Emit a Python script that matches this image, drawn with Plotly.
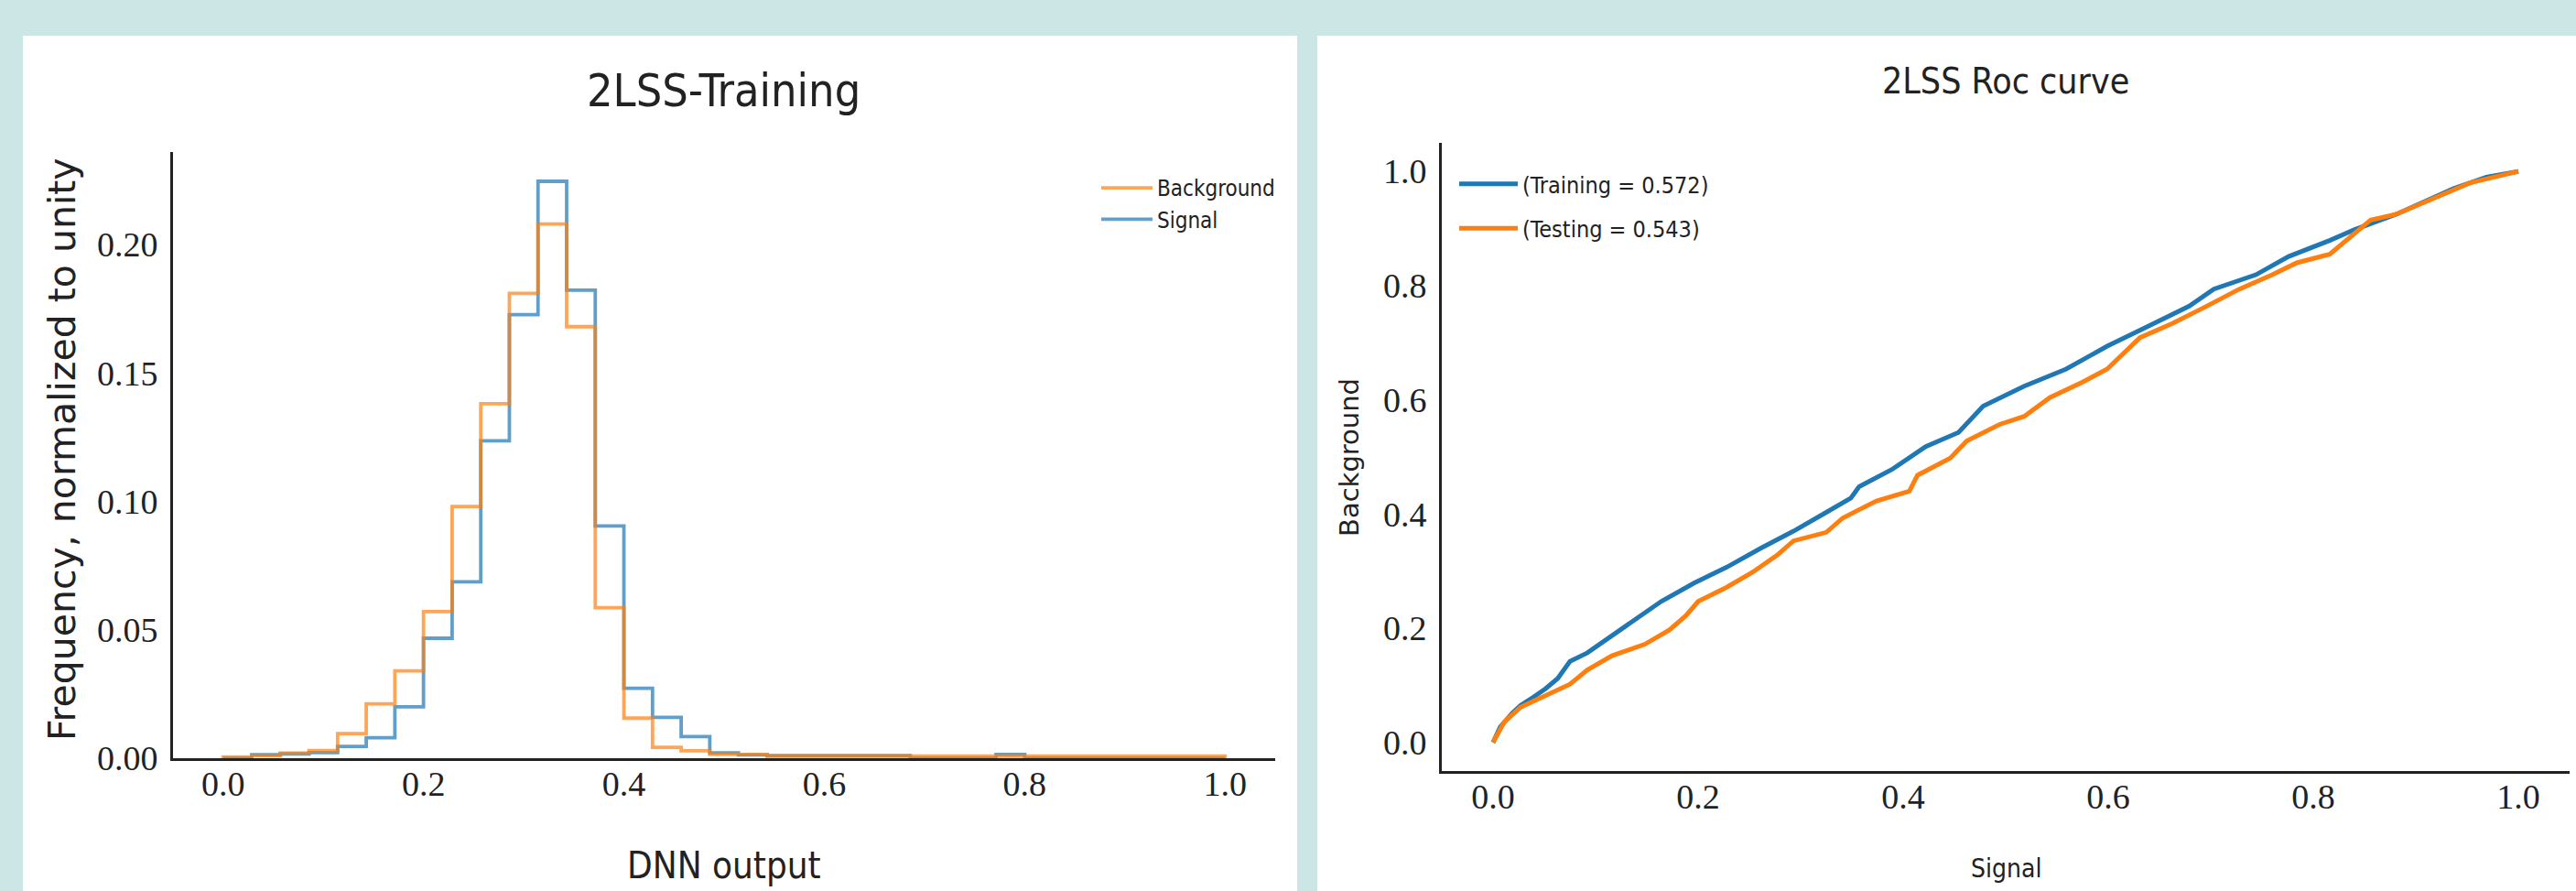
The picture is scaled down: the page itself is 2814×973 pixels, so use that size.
import numpy as np
import plotly.graph_objects as go

W, H = 2814, 973

# ---- DNN output histogram: 35 equal bins on [0, 1], each sample normalized to unit sum
bin_edges = np.linspace(0.0, 1.0, 36)
background_freq = [0.0005, 0.0010, 0.0020, 0.0030, 0.0096, 0.0212, 0.0340, 0.0571, 0.0980, 0.1380,
                   0.1810, 0.2080, 0.1680, 0.0586, 0.0156, 0.0042, 0.0029, 0.0015, 0.0015, 0.0008,
                   0.0008, 0.0008, 0.0008, 0.0008, 0.0008, 0.0008, 0.0008, 0.0008, 0.0008, 0.0008,
                   0.0008, 0.0008, 0.0008, 0.0008, 0.0008]
signal_freq = [0.0000, 0.0014, 0.0017, 0.0022, 0.0046, 0.0080, 0.0200, 0.0467, 0.0687, 0.1236,
               0.1727, 0.2246, 0.1822, 0.0904, 0.0272, 0.0159, 0.0084, 0.0021, 0.0013, 0.0010,
               0.0010, 0.0010, 0.0010, 0.0010, 0.0000, 0.0000, 0.0000, 0.0015, 0.0000, 0.0000,
               0.0000, 0.0000, 0.0000, 0.0000, 0.0000]

# ---- ROC curves (signal efficiency vs background efficiency)
train_sig = [0.000, 0.007, 0.019, 0.027, 0.039, 0.051, 0.063, 0.075, 0.092, 0.116, 0.140, 0.164,
             0.196, 0.228, 0.261, 0.293, 0.325, 0.349, 0.357, 0.389, 0.422, 0.454, 0.478, 0.518,
             0.559, 0.599, 0.639, 0.679, 0.703, 0.744, 0.776, 0.816, 0.840, 0.881, 0.937, 0.969, 1.000]
train_bkg = [0.000, 0.027, 0.052, 0.065, 0.079, 0.094, 0.112, 0.142, 0.157, 0.187, 0.217, 0.247,
             0.279, 0.307, 0.340, 0.370, 0.403, 0.428, 0.448, 0.478, 0.518, 0.543, 0.589, 0.624,
             0.654, 0.694, 0.729, 0.764, 0.794, 0.819, 0.851, 0.879, 0.898, 0.925, 0.970, 0.990, 1.000]
test_sig = [0.000, 0.011, 0.027, 0.051, 0.075, 0.092, 0.116, 0.148, 0.172, 0.188, 0.200, 0.228,
            0.253, 0.277, 0.293, 0.325, 0.341, 0.374, 0.406, 0.414, 0.446, 0.462, 0.494, 0.518,
            0.543, 0.575, 0.599, 0.631, 0.663, 0.696, 0.728, 0.760, 0.784, 0.816, 0.856, 0.881,
            0.921, 0.953, 1.000]
test_bkg = [0.000, 0.036, 0.062, 0.082, 0.102, 0.127, 0.152, 0.172, 0.197, 0.222, 0.247, 0.272,
            0.298, 0.328, 0.353, 0.368, 0.393, 0.423, 0.440, 0.468, 0.498, 0.528, 0.557, 0.571,
            0.604, 0.631, 0.654, 0.709, 0.734, 0.764, 0.794, 0.819, 0.840, 0.855, 0.915, 0.925,
            0.955, 0.980, 1.000]
train_auc = 0.572
test_auc = 0.543

BLUE = "#1f77b4"
ORANGE = "#ff7f0e"
TEAL = "#cce6e6"
INK = "#222222"
NARROW = "DejaVu Sans Condensed, Liberation Sans Narrow, Liberation Sans, sans-serif"
SERIF = "Liberation Serif, DejaVu Serif, serif"
WIDE = "DejaVu Sans, sans-serif"


def px_x(p):
    return p / W


def px_y(p):
    return 1 - p / H


def step_outline(edges, values):
    xs = [edges[0]] + list(edges[:-1]) + [edges[-1]]
    ys = [0.0] + list(values) + [0.0]
    return xs, ys


fig = go.Figure()

sx, sy = step_outline(bin_edges, signal_freq)
bx, by = step_outline(bin_edges, background_freq)
fig.add_trace(go.Scatter(x=sx, y=sy, mode="lines", line=dict(shape="hv", color=BLUE, width=3.8),
                         opacity=0.7, name="Signal", legend="legend", legendrank=2,
                         xaxis="x", yaxis="y"))
fig.add_trace(go.Scatter(x=bx, y=by, mode="lines", line=dict(shape="hv", color=ORANGE, width=3.8),
                         opacity=0.7, name="Background", legend="legend", legendrank=1,
                         xaxis="x", yaxis="y"))

fig.add_trace(go.Scatter(x=train_sig, y=train_bkg, mode="lines", line=dict(color=BLUE, width=5),
                         name=f"(Training = {train_auc:.3f})", legend="legend2", legendrank=1,
                         legendgroup="train", xaxis="x2", yaxis="y2"))
fig.add_trace(go.Scatter(x=test_sig, y=test_bkg, mode="lines", line=dict(color=ORANGE, width=5),
                         name=f"(Testing = {test_auc:.3f})", legend="legend2", legendrank=2,
                         legendgroup="test", xaxis="x2", yaxis="y2"))

axis_common = dict(showgrid=False, zeroline=False, showline=True, linecolor=INK, linewidth=3,
                   automargin=False, tickfont=dict(family=SERIF, size=38, color=INK), mirror=False)
x_ticks = dict(ticks="", ticklabelstandoff=-8, **axis_common)
y_ticks = dict(ticks="outside", ticklen=6, tickcolor="rgba(0,0,0,0)", **axis_common)

fig.update_layout(
    width=W, height=H,
    autosize=False,
    margin=dict(l=0, r=0, t=0, b=0, pad=0, autoexpand=False),
    paper_bgcolor=TEAL,
    plot_bgcolor="rgba(0,0,0,0)",
    showlegend=True,
    xaxis=dict(domain=[px_x(189), px_x(1393)], range=[-0.05, 1.05], anchor="y",
               tickvals=[0, 0.2, 0.4, 0.6, 0.8, 1.0], tickformat=".1f", **x_ticks),
    yaxis=dict(domain=[px_y(828), px_y(166)], range=[0, 0.236], anchor="x",
               tickvals=[0, 0.05, 0.10, 0.15, 0.20], tickformat=".2f", **y_ticks),
    xaxis2=dict(domain=[px_x(1575), px_x(2807)], range=[-0.05, 1.05], anchor="y2",
                tickvals=[0, 0.2, 0.4, 0.6, 0.8, 1.0], tickformat=".1f", **x_ticks),
    yaxis2=dict(domain=[px_y(842), px_y(156)], range=[-0.05, 1.05], anchor="x2",
                tickvals=[0, 0.2, 0.4, 0.6, 0.8, 1.0], tickformat=".1f", **y_ticks),
    legend=dict(x=px_x(1198), y=px_y(183), xanchor="left", yanchor="top",
                bgcolor="rgba(0,0,0,0)", font=dict(family=NARROW, size=24, color=INK),
                itemwidth=56),
    legend2=dict(x=px_x(1589), y=px_y(178), xanchor="left", yanchor="top",
                 bgcolor="rgba(0,0,0,0)", font=dict(family=NARROW, size=25, color=INK),
                 itemwidth=64, tracegroupgap=13),
    shapes=[
        dict(type="rect", xref="paper", yref="paper", x0=px_x(25), x1=px_x(1417),
             y0=0, y1=px_y(39), fillcolor="white", line=dict(width=0), layer="below"),
        dict(type="rect", xref="paper", yref="paper", x0=px_x(1439), x1=1,
             y0=0, y1=px_y(39), fillcolor="white", line=dict(width=0), layer="below"),
    ],
    annotations=[
        dict(text="2LSS-Training", x=px_x(790), y=px_y(99), xref="paper", yref="paper",
             xanchor="center", yanchor="middle", showarrow=False,
             font=dict(family=NARROW, size=50, color=INK)),
        dict(text="2LSS Roc curve", x=px_x(2191), y=px_y(88), xref="paper", yref="paper",
             xanchor="center", yanchor="middle", showarrow=False,
             font=dict(family=NARROW, size=39, color=INK)),
        dict(text="DNN output", x=px_x(791), y=px_y(945), xref="paper", yref="paper",
             xanchor="center", yanchor="middle", showarrow=False,
             font=dict(family=NARROW, size=40, color=INK)),
        dict(text="Signal", x=px_x(2191), y=px_y(948), xref="paper", yref="paper",
             xanchor="center", yanchor="middle", showarrow=False,
             font=dict(family=NARROW, size=28, color=INK)),
        dict(text="Frequency, normalized to unity", x=px_x(68), y=px_y(491), xref="paper",
             yref="paper", xanchor="center", yanchor="middle", textangle=-90, showarrow=False,
             font=dict(family=WIDE, size=41, color=INK)),
        dict(text="Background", x=px_x(1474), y=px_y(500), xref="paper", yref="paper",
             xanchor="center", yanchor="middle", textangle=-90, showarrow=False,
             font=dict(family=WIDE, size=29, color=INK)),
    ],
)

fig.write_html("out.html")
